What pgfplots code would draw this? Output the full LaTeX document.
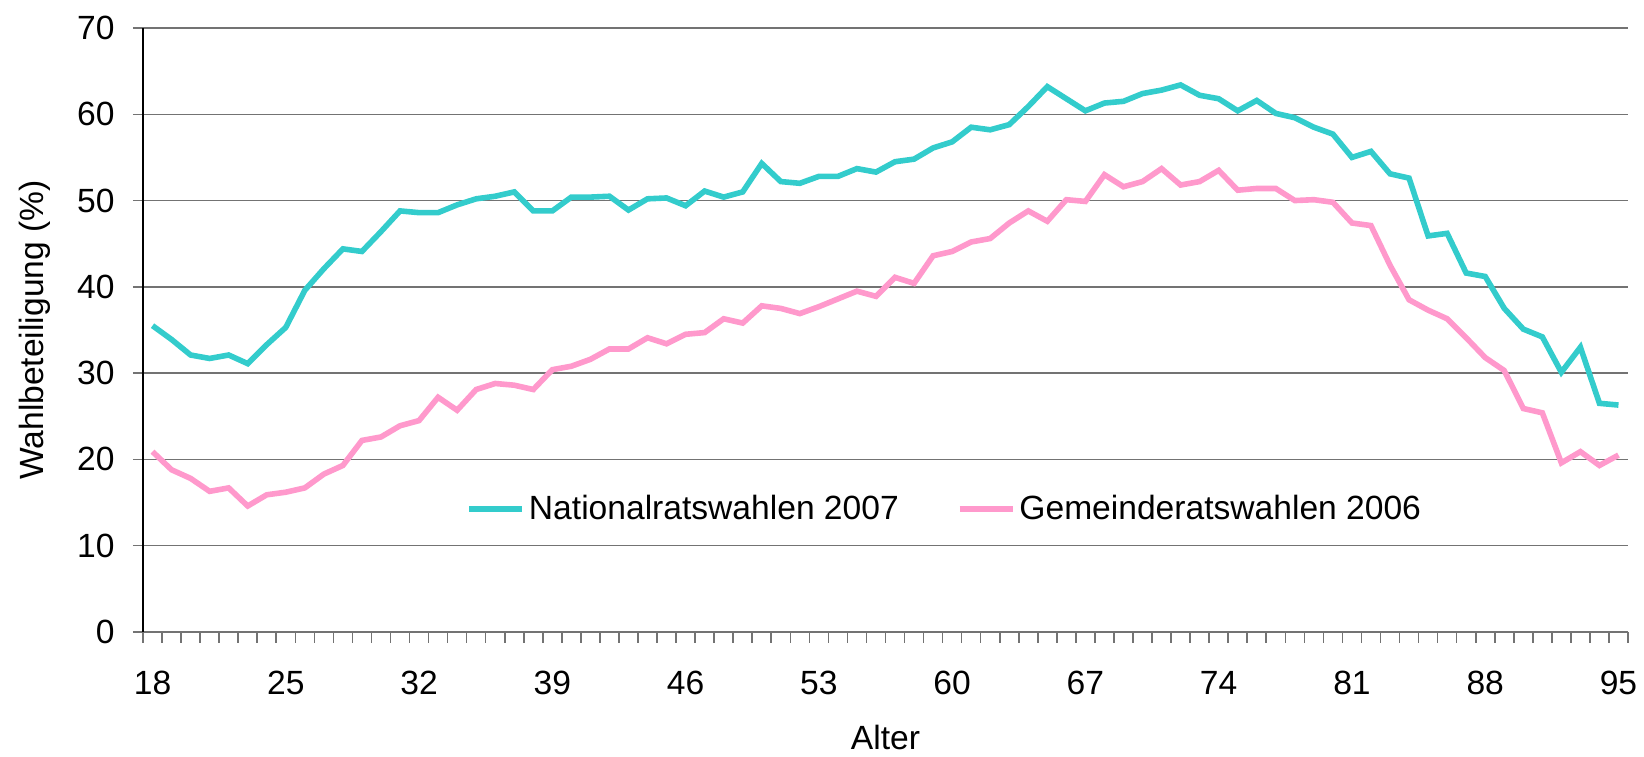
\documentclass[border=0pt]{standalone}
\usepackage{pgfplots}
\pgfplotsset{compat=1.18}
\usepackage{pgfplotstable}
\usetikzlibrary{calc}
\usepackage{fontspec}
\setmainfont{Liberation Sans}
\definecolor{teal1}{RGB}{51,204,204}
\definecolor{pink1}{RGB}{255,153,204}
\definecolor{gridgray}{RGB}{115,115,115}

\pgfplotstableread{
x y
18 35.5
19 33.9
20 32.1
21 31.7
22 32.1
23 31.1
24 33.3
25 35.3
26 39.6
27 42.1
28 44.4
29 44.1
30 46.4
31 48.8
32 48.6
33 48.6
34 49.5
35 50.2
36 50.5
37 51.0
38 48.8
39 48.8
40 50.4
41 50.4
42 50.5
43 48.9
44 50.2
45 50.3
46 49.4
47 51.1
48 50.4
49 51.0
50 54.3
51 52.2
52 52.0
53 52.8
54 52.8
55 53.7
56 53.3
57 54.5
58 54.8
59 56.1
60 56.8
61 58.5
62 58.2
63 58.8
64 60.9
65 63.2
66 61.8
67 60.4
68 61.3
69 61.5
70 62.4
71 62.8
72 63.4
73 62.2
74 61.8
75 60.4
76 61.6
77 60.1
78 59.6
79 58.5
80 57.7
81 55.0
82 55.7
83 53.1
84 52.6
85 45.9
86 46.2
87 41.6
88 41.2
89 37.5
90 35.1
91 34.2
92 30.1
93 33.0
94 26.5
95 26.3
}\nat

\pgfplotstableread{
x y
18 20.9
19 18.8
20 17.8
21 16.3
22 16.7
23 14.6
24 15.9
25 16.2
26 16.7
27 18.3
28 19.3
29 22.2
30 22.6
31 23.9
32 24.5
33 27.2
34 25.7
35 28.1
36 28.8
37 28.6
38 28.1
39 30.4
40 30.8
41 31.6
42 32.8
43 32.8
44 34.1
45 33.4
46 34.5
47 34.7
48 36.3
49 35.8
50 37.8
51 37.5
52 36.9
53 37.7
54 38.6
55 39.5
56 38.9
57 41.1
58 40.4
59 43.6
60 44.1
61 45.2
62 45.6
63 47.4
64 48.8
65 47.6
66 50.1
67 49.9
68 53.0
69 51.6
70 52.2
71 53.7
72 51.8
73 52.2
74 53.5
75 51.2
76 51.4
77 51.4
78 50.0
79 50.1
80 49.8
81 47.4
82 47.1
83 42.5
84 38.5
85 37.3
86 36.3
87 34.1
88 31.8
89 30.3
90 25.9
91 25.4
92 19.6
93 20.9
94 19.3
95 20.5
}\gem

\begin{document}
\begin{tikzpicture}
\begin{axis}[
  scale only axis,
  width=742.5pt, height=302pt,
  xmin=17.5, xmax=95.5,
  ymin=0, ymax=70,
  axis x line*=bottom, axis y line*=left,
  axis line style={-},
  x axis line style={draw=gridgray, line width=0.8pt},
  y axis line style={draw=black, line width=0.7pt},
  xtick={18,25,...,95},
  minor xtick={17.5,18.5,...,95.5},
  ytick={0,10,...,70},
  tick align=outside,
  major tick length=5pt,
  minor tick length=5.5pt,
  major x tick style={draw=none},
  minor x tick style={draw=gridgray, line width=0.8pt},
  ytick style={draw=gridgray, line width=0.7pt},
  ymajorgrids,
  major grid style={draw=gridgray, line width=0.7pt},
  font=\fontsize{16.8}{20}\selectfont,
  /pgf/number format/assume math mode=true,
  xticklabel style={anchor=center, inner sep=0pt, yshift=-20.25pt},
  yticklabel style={anchor=east, inner sep=0pt, xshift=-9pt},
  xlabel={Alter},
  ylabel={Wahlbeteiligung (\%)},
  xlabel style={at={(axis description cs:0.5,0)}, anchor=center, inner sep=0pt, yshift=-53pt},
  ylabel style={at={(axis description cs:0,0.5)}, anchor=center, yshift=54pt},
  legend columns=2,
  legend style={draw=none, fill=none, inner sep=0pt, at={(rel axis cs:0.2175,0.2036)}, anchor=west,
    /tikz/every even column/.append style={column sep=27pt},
    font=\fontsize{16.8}{20}\selectfont},
  legend image code/.code={\draw[#1] (0pt,0pt) -- (26.5pt,0pt);},
  clip=false,
]
\addplot[teal1, line width=2.8pt] table[x=x,y=y] {\nat};
\addlegendentry{Nationalratswahlen 2007}
\addplot[pink1, line width=2.8pt] table[x=x,y=y] {\gem};
\addlegendentry{Gemeinderatswahlen 2006}
\end{axis}
\pgfresetboundingbox
\path ($(current axis.south west)+(-71.5pt,-62.5pt)$) rectangle ($(current axis.north east)+(8pt,14pt)$);
\end{tikzpicture}
\end{document}
